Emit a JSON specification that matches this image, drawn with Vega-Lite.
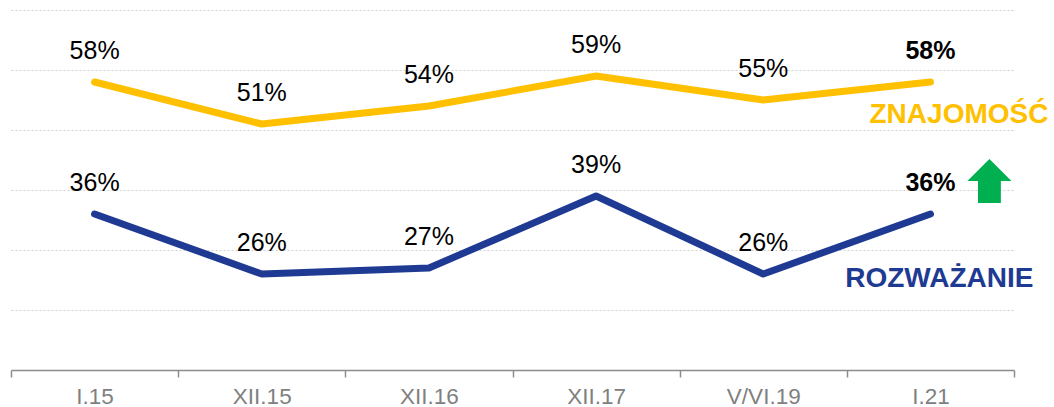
{
  "$schema": "https://vega.github.io/schema/vega-lite/v6.json",
  "width": 1003,
  "height": 360,
  "autosize": {"type": "none"},
  "padding": {"left": 11, "top": 10, "right": 40, "bottom": 37},
  "config": {"view": {"stroke": null}, "font": "Liberation Sans"},
  "datasets": {
    "series": [
      {"period": "I.15", "series": "Znajomość", "value": 0.58},
      {"period": "XII.15", "series": "Znajomość", "value": 0.51},
      {"period": "XII.16", "series": "Znajomość", "value": 0.54},
      {"period": "XII.17", "series": "Znajomość", "value": 0.59},
      {"period": "V/VI.19", "series": "Znajomość", "value": 0.55},
      {"period": "I.21", "series": "Znajomość", "value": 0.58},
      {"period": "I.15", "series": "Rozważanie", "value": 0.36},
      {"period": "XII.15", "series": "Rozważanie", "value": 0.26},
      {"period": "XII.16", "series": "Rozważanie", "value": 0.27},
      {"period": "XII.17", "series": "Rozważanie", "value": 0.39},
      {"period": "V/VI.19", "series": "Rozważanie", "value": 0.26},
      {"period": "I.21", "series": "Rozważanie", "value": 0.36}
    ],
    "znaj": [{"period": "I.21", "value": 0.512, "name": "ZNAJOMOŚĆ"}],
    "rozw": [{"period": "I.21", "value": 0.238, "name": "ROZWAŻANIE"}],
    "arrow": [{"period": "I.21", "value": 0.415}]
  },
  "encoding": {
    "x": {
      "field": "period",
      "type": "ordinal",
      "sort": ["I.15", "XII.15", "XII.16", "XII.17", "V/VI.19", "I.21"],
      "scale": {"type": "band", "paddingInner": 0, "paddingOuter": 0},
      "axis": {
        "title": null,
        "tickBand": "extent",
        "labelAngle": 0,
        "domainColor": "#8c8c8c",
        "domainWidth": 1.5,
        "tickColor": "#8c8c8c",
        "tickWidth": 1.5,
        "tickSize": 7,
        "labelFontSize": 22.5,
        "labelColor": "#808080",
        "labelPadding": 8,
        "grid": false
      }
    },
    "y": {
      "field": "value",
      "type": "quantitative",
      "scale": {"domain": [0.1, 0.7], "nice": false, "zero": false},
      "axis": {
        "title": null,
        "values": [0.2, 0.3, 0.4, 0.5, 0.6, 0.7],
        "grid": true,
        "gridDash": [2, 2],
        "gridColor": "#d0d0d0",
        "domain": false,
        "ticks": false,
        "labels": false
      }
    }
  },
  "layer": [
    {
      "data": {"name": "series"},
      "mark": {"type": "line", "strokeWidth": 7, "strokeCap": "round", "strokeJoin": "round"},
      "encoding": {
        "color": {
          "field": "series",
          "type": "nominal",
          "scale": {"domain": ["Znajomość", "Rozważanie"], "range": ["#FFC000", "#1F3A93"]},
          "legend": null
        }
      }
    },
    {
      "data": {"name": "series"},
      "transform": [{"filter": "datum.period !== 'I.21'"}],
      "mark": {"type": "text", "dy": -23, "baseline": "alphabetic", "fontSize": 25, "color": "#000000"},
      "encoding": {"text": {"field": "value", "type": "quantitative", "format": ".0%"}}
    },
    {
      "data": {"name": "series"},
      "transform": [{"filter": "datum.period === 'I.21'"}],
      "mark": {"type": "text", "dy": -23, "baseline": "alphabetic", "fontSize": 25, "fontWeight": "bold", "color": "#000000"},
      "encoding": {"text": {"field": "value", "type": "quantitative", "format": ".0%"}}
    },
    {
      "data": {"name": "znaj"},
      "mark": {"type": "text", "align": "right", "baseline": "alphabetic", "dx": 118, "fontSize": 28, "fontWeight": "bold", "color": "#FFC000"},
      "encoding": {"text": {"field": "name", "type": "nominal"}}
    },
    {
      "data": {"name": "rozw"},
      "mark": {"type": "text", "align": "right", "baseline": "alphabetic", "dx": 103, "fontSize": 28, "fontWeight": "bold", "color": "#1F3A93"},
      "encoding": {"text": {"field": "name", "type": "nominal"}}
    },
    {
      "data": {"name": "arrow"},
      "mark": {
        "type": "point",
        "shape": "M0,-1 L1,0 L0.52,0 L0.52,1 L-0.52,1 L-0.52,0 L-1,0 Z",
        "size": 1936,
        "filled": true,
        "opacity": 1,
        "strokeWidth": 0,
        "color": "#00B050",
        "xOffset": 59
      }
    }
  ]
}
